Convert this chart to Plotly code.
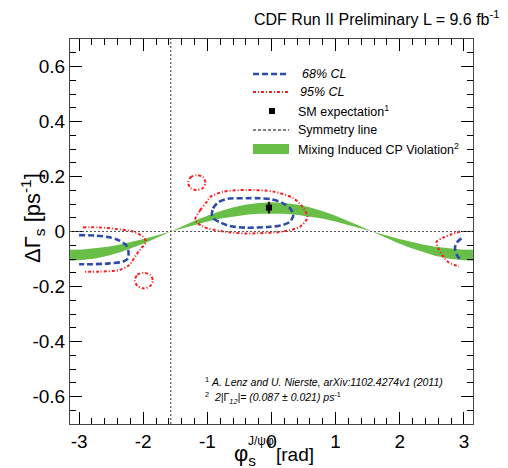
import plotly.graph_objects as go

# ---------------- data ----------------
band_phi = [-3.14, -2.95, -2.75, -2.55, -2.36, -2.16, -1.96, -1.77, -1.57, -1.37, -1.18, -0.98,
            -0.79, -0.59, -0.39, -0.20, 0.0, 0.20, 0.39, 0.59, 0.79, 0.98, 1.18, 1.37, 1.57,
            1.77, 1.96, 2.16, 2.36, 2.55, 2.75, 2.95, 3.14]
band_lo = [-0.066, -0.065, -0.061, -0.055, -0.047, -0.037, -0.025, -0.013, 0.0, 0.013, 0.025, 0.037,
           0.047, 0.055, 0.061, 0.065, 0.066, 0.065, 0.061, 0.055, 0.047, 0.037, 0.025, 0.013, 0.0,
           -0.013, -0.025, -0.037, -0.047, -0.055, -0.061, -0.065, -0.066]
band_hi = [-0.106, -0.104, -0.098, -0.088, -0.075, -0.059, -0.041, -0.021, 0.0, 0.021, 0.041, 0.059,
           0.075, 0.088, 0.098, 0.104, 0.106, 0.104, 0.098, 0.088, 0.075, 0.059, 0.041, 0.021, 0.0,
           -0.021, -0.041, -0.059, -0.075, -0.088, -0.098, -0.104, -0.106]

# 68% CL pieces
c68_mid_phi = [-0.93, -0.91, -0.83, -0.68, -0.39, -0.18, 0.0, 0.16, 0.29, 0.34, 0.29, 0.18, -0.02,
               -0.39, -0.65, -0.80, -0.91, -0.93]
c68_mid_dg = [0.062, 0.084, 0.106, 0.119, 0.121, 0.121, 0.117, 0.105, 0.084, 0.060, 0.036, 0.024,
              0.017, 0.014, 0.020, 0.033, 0.048, 0.062]
c68_left_phi = [-3.0, -2.74, -2.53, -2.37, -2.27, -2.23, -2.24, -2.32, -2.53, -2.79, -3.0]
c68_left_dg = [-0.013, -0.015, -0.021, -0.033, -0.049, -0.073, -0.098, -0.110, -0.116, -0.119, -0.119]
c68_right_phi = [2.96, 2.89, 2.86, 2.89, 2.94]
c68_right_dg = [-0.025, -0.040, -0.060, -0.085, -0.101]

# 95% CL pieces
c95_mid_phi = [-1.19, -1.11, -1.01, -0.96, -0.75, -0.39, 0.03, 0.34, 0.50, 0.56, 0.44, 0.18,
               -0.39, -0.75, -1.06, -1.19]
c95_mid_dg = [0.042, 0.078, 0.108, 0.125, 0.145, 0.151, 0.145, 0.121, 0.085, 0.050, 0.017, 0.0,
              -0.007, 0.0, 0.017, 0.042]
c95_left_phi = [-2.94, -2.68, -2.42, -2.16, -2.0, -1.96, -2.03, -2.11, -2.22, -2.37, -2.68, -2.94]
c95_left_dg = [0.015, 0.015, 0.009, 0.0, -0.019, -0.037, -0.061, -0.085, -0.122, -0.140, -0.146, -0.146]
c95_right_phi = [2.94, 2.81, 2.68, 2.57, 2.60, 2.68, 2.76, 2.89, 2.92]
c95_right_dg = [0.0, -0.010, -0.022, -0.039, -0.060, -0.092, -0.112, -0.125, -0.128]
c95_isl1_phi = [-1.30, -1.26, -1.17, -1.07, -1.03, -1.07, -1.17, -1.26, -1.30]
c95_isl1_dg = [0.178, 0.197, 0.205, 0.198, 0.178, 0.158, 0.151, 0.158, 0.178]
c95_isl2_phi = [-2.13, -2.09, -1.99, -1.89, -1.85, -1.89, -1.99, -2.09, -2.13]
c95_isl2_dg = [-0.178, -0.157, -0.150, -0.158, -0.178, -0.198, -0.207, -0.198, -0.178]

sm_phi = [-0.04]
sm_dg = [0.087]
sm_err = [0.021]

sym_phi = -1.5708

x_range = [-3.14159, 3.14159]
y_range = [-0.7, 0.7]
x_ticks = [-3, -2, -1, 0, 1, 2, 3]
x_ticktext = ["-3", "-2", "-1", "0", "1", "2", "3"]
y_ticks = [-0.6, -0.4, -0.2, 0.0, 0.2, 0.4, 0.6]
y_ticktext = ["-0.6", "-0.4", "-0.2", "0", "0.2", "0.4", "0.6"]

# ---------------- style ----------------
GREEN = "rgb(104,190,70)"
BLUE = "rgb(45,75,170)"
RED = "rgb(250,30,30)"
FONT = "Liberation Sans, Arial, sans-serif"
W, H = 508, 468
L, R, T, B = 70, 473, 39, 424


def px(x):
    return (x - L) / (R - L)


def py(y):
    return (B - y) / (B - T)


fig = go.Figure()

# green band
fig.add_trace(go.Scatter(x=band_phi + band_phi[::-1], y=band_hi + band_lo[::-1],
                         mode="lines", fill="toself", fillcolor=GREEN,
                         line=dict(width=0, color=GREEN), hoverinfo="skip", showlegend=False))

blue_line = dict(color=BLUE, width=2.6, dash="6px,3px", shape="spline", smoothing=0.8)
red_line = dict(color=RED, width=2.0, dash="3px,2px,1px,2px", shape="spline", smoothing=0.8)

for xs, ys in [(c95_mid_phi, c95_mid_dg), (c95_left_phi, c95_left_dg), (c95_right_phi, c95_right_dg),
               (c95_isl1_phi, c95_isl1_dg), (c95_isl2_phi, c95_isl2_dg)]:
    fig.add_trace(go.Scatter(x=xs, y=ys, mode="lines", line=red_line, showlegend=False))
for xs, ys in [(c68_mid_phi, c68_mid_dg), (c68_left_phi, c68_left_dg), (c68_right_phi, c68_right_dg)]:
    fig.add_trace(go.Scatter(x=xs, y=ys, mode="lines", line=blue_line, showlegend=False))

# SM expectation
fig.add_trace(go.Scatter(x=sm_phi, y=sm_dg, mode="markers",
                         marker=dict(symbol="square", size=6, color="black"),
                         error_y=dict(type="data", array=sm_err, color="black", thickness=2, width=0),
                         showlegend=False))

# invisible trace to carry the minor-tick axes
fig.add_trace(go.Scatter(x=x_range, y=y_range, xaxis="x2", yaxis="y2", mode="markers",
                         marker=dict(opacity=0), hoverinfo="skip", showlegend=False))

shapes = []
# symmetry lines
shapes.append(dict(type="line", xref="x", yref="paper", x0=sym_phi, x1=sym_phi, y0=0, y1=1,
                   line=dict(color="#555555", width=1.2, dash="2px,2px")))
shapes.append(dict(type="line", xref="paper", yref="y", x0=0, x1=1, y0=0, y1=0,
                   line=dict(color="#555555", width=1.2, dash="2px,2px")))

# legend samples
shapes.append(dict(type="line", xref="paper", yref="paper", x0=px(253), x1=px(289), y0=py(74), y1=py(74),
                   line=dict(color=BLUE, width=2.6, dash="6px,3px")))
shapes.append(dict(type="line", xref="paper", yref="paper", x0=px(253), x1=px(289), y0=py(92), y1=py(92),
                   line=dict(color=RED, width=2.0, dash="3px,2px,1px,2px")))
shapes.append(dict(type="rect", xref="paper", yref="paper", x0=px(269), x1=px(275), y0=py(108), y1=py(114),
                   fillcolor="black", line=dict(width=0)))
shapes.append(dict(type="line", xref="paper", yref="paper", x0=px(253), x1=px(289), y0=py(130), y1=py(130),
                   line=dict(color="black", width=1, dash="3px,2px")))
shapes.append(dict(type="rect", xref="paper", yref="paper", x0=px(253), x1=px(289), y0=py(144), y1=py(154),
                   fillcolor=GREEN, line=dict(width=0)))

ann = []


def add_text(text, x, y, size, xanchor="left", angle=0, color="black"):
    ann.append(dict(text=text, xref="paper", yref="paper", x=px(x), y=py(y), xanchor=xanchor,
                    yanchor="middle", showarrow=False, textangle=angle,
                    font=dict(family=FONT, size=size, color=color)))


add_text("<i>68% CL</i>", 300, 74, 12.5)
add_text("<i>95% CL</i>", 298, 92, 12.5)
add_text("SM expectation<sup>1</sup>", 296, 111, 12.5)
add_text("Symmetry line", 296, 130, 12.5)
add_text("Mixing Induced CP Violation<sup>2</sup>", 296, 149, 12.5)

add_text("<sup>1</sup> <i>A. Lenz and U. Nierste, arXiv:1102.4274v1 (2011)</i>", 203, 381, 10.5)
add_text("<sup>2</sup>  <i>2|</i>Γ<sub><i>12</i></sub><i>|= (0.087 ± 0.021) ps</i><sup>-1</sup>", 203, 398, 10.5)

add_text("CDF Run II Preliminary L = 9.6 fb<sup>-1</sup>", 501, 18, 16, xanchor="right")

# axis titles
add_text("ΔΓ<sub>s</sub> [ps<sup>-1</sup>]", 32, 218, 22, xanchor="center", angle=-90)
add_text("φ<sub>s</sub>", 232, 455, 22)
add_text("J/ψφ", 246, 441, 12)
add_text("[rad]", 274, 455, 19)

fig.update_layout(
    width=W, height=H,
    margin=dict(l=L, r=W - R, t=T, b=H - B),
    paper_bgcolor="white", plot_bgcolor="white",
    shapes=shapes, annotations=ann,
    showlegend=False,
)

common = dict(showline=True, linecolor="#444444", linewidth=1, mirror="ticks", ticks="inside",
              tickwidth=1, tickcolor="black", showgrid=False, zeroline=False)
fig.update_layout(
    xaxis=dict(range=x_range, tickmode="array", tickvals=x_ticks, ticktext=x_ticktext, ticklen=12,
               tickfont=dict(family=FONT, size=19, color="black"), **common),
    yaxis=dict(range=y_range, tickmode="array", tickvals=y_ticks, ticktext=y_ticktext, ticklen=12,
               tickfont=dict(family=FONT, size=19, color="black"), **common),
    xaxis2=dict(range=x_range, overlaying="x", anchor="y2", tickmode="linear", tick0=0, dtick=0.2,
                ticklen=6, showticklabels=False, **common),
    yaxis2=dict(range=y_range, overlaying="y", anchor="x2", tickmode="linear", tick0=0, dtick=0.05,
                ticklen=6, showticklabels=False, **common),
)

fig.write_html("out.html", config={"displayModeBar": False},
               post_script="document.body.style.margin='0';document.body.style.overflow='hidden';"
                           "document.documentElement.style.overflow='hidden';")
